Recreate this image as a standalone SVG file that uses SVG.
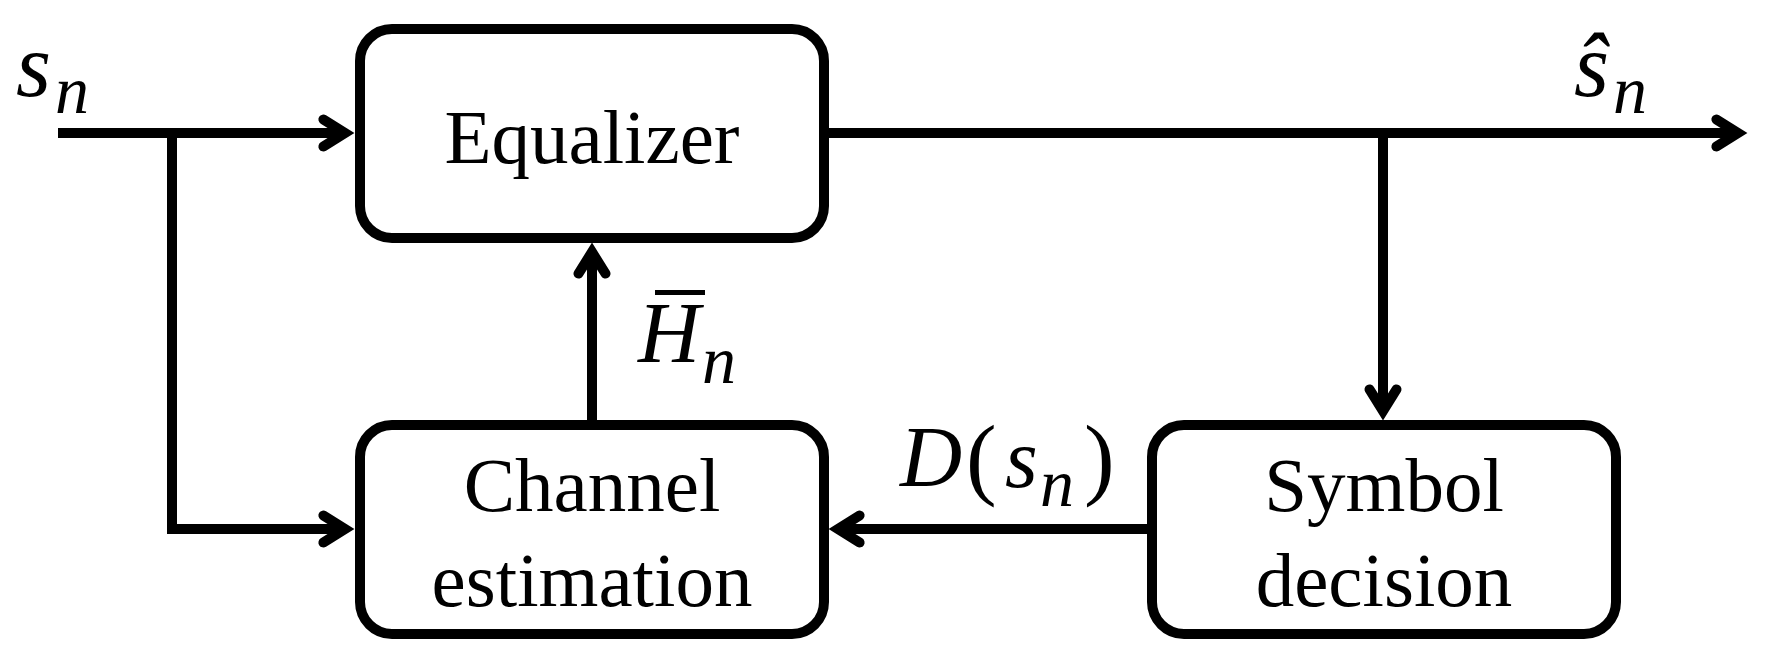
<svg xmlns="http://www.w3.org/2000/svg" width="1774" height="666" viewBox="0 0 1774 666">
<style>
.box{fill:#fff;stroke:#000;stroke-width:10}
.wire{fill:none;stroke:#000;stroke-width:10;stroke-linejoin:miter}
text{font-family:"Liberation Serif","Times New Roman",serif;fill:#000}
.lbl{font-size:77px;text-anchor:middle}
.m{font-style:italic}
.up{font-style:normal}
</style>
<defs>
<marker id="ah" markerUnits="userSpaceOnUse" orient="auto" refX="0" refY="0" markerWidth="60" markerHeight="60" viewBox="-30 -30 60 60" overflow="visible">
<path d="M-21.6,-13.5 L0,0 L-21.6,13.5" fill="none" stroke="#000" stroke-width="10" stroke-linecap="round" stroke-linejoin="miter"/>
</marker>
</defs>
<rect width="1774" height="666" fill="#fff"/>
<g id="connectors">
<path class="wire" d="M58,133 H345" marker-end="url(#ah)"/>
<path class="wire" d="M824,133 H1738" marker-end="url(#ah)"/>
<path class="wire" d="M1383,133 V411" marker-end="url(#ah)"/>
<path class="wire" d="M172,133 V529 H345" marker-end="url(#ah)"/>
<path class="wire" d="M592,420 V252" marker-end="url(#ah)"/>
<path class="wire" d="M1147,529 H838" marker-end="url(#ah)"/>
</g>
<g id="equalizer">
<rect class="box" x="360" y="29" width="464" height="209" rx="32" ry="32"/>
<text class="lbl" x="592" y="163">Equalizer</text>
</g>
<g id="channel-estimation">
<rect class="box" x="360" y="425" width="464" height="209" rx="32" ry="32"/>
<text class="lbl" x="592" y="511">Channel</text>
<text class="lbl" x="592" y="606">estimation</text>
</g>
<g id="symbol-decision">
<rect class="box" x="1152" y="425" width="464" height="209" rx="32" ry="32"/>
<text class="lbl" x="1384" y="511">Symbol</text>
<text class="lbl" x="1384" y="606">decision</text>
</g>
<g id="labels">
<text class="m"><tspan x="16" y="96" font-size="90">s</tspan><tspan x="55" y="113" font-size="68">n</tspan></text>
<text class="m"><tspan x="1574" y="96" font-size="90">ŝ</tspan><tspan x="1613" y="113" font-size="68">n</tspan></text>
<line x1="655" y1="292.5" x2="705" y2="292.5" stroke="#000" stroke-width="5"/>
<text class="m"><tspan x="638" y="362" font-size="86">H</tspan><tspan x="702" y="383" font-size="68">n</tspan></text>
<text class="m"><tspan x="900" y="486" font-size="86">D</tspan><tspan class="up" x="966" y="488" font-size="92">(</tspan><tspan x="1005" y="487" font-size="84">s</tspan><tspan x="1040" y="506" font-size="68">n</tspan><tspan class="up" x="1084" y="488" font-size="92">)</tspan></text>
</g>
</svg>
